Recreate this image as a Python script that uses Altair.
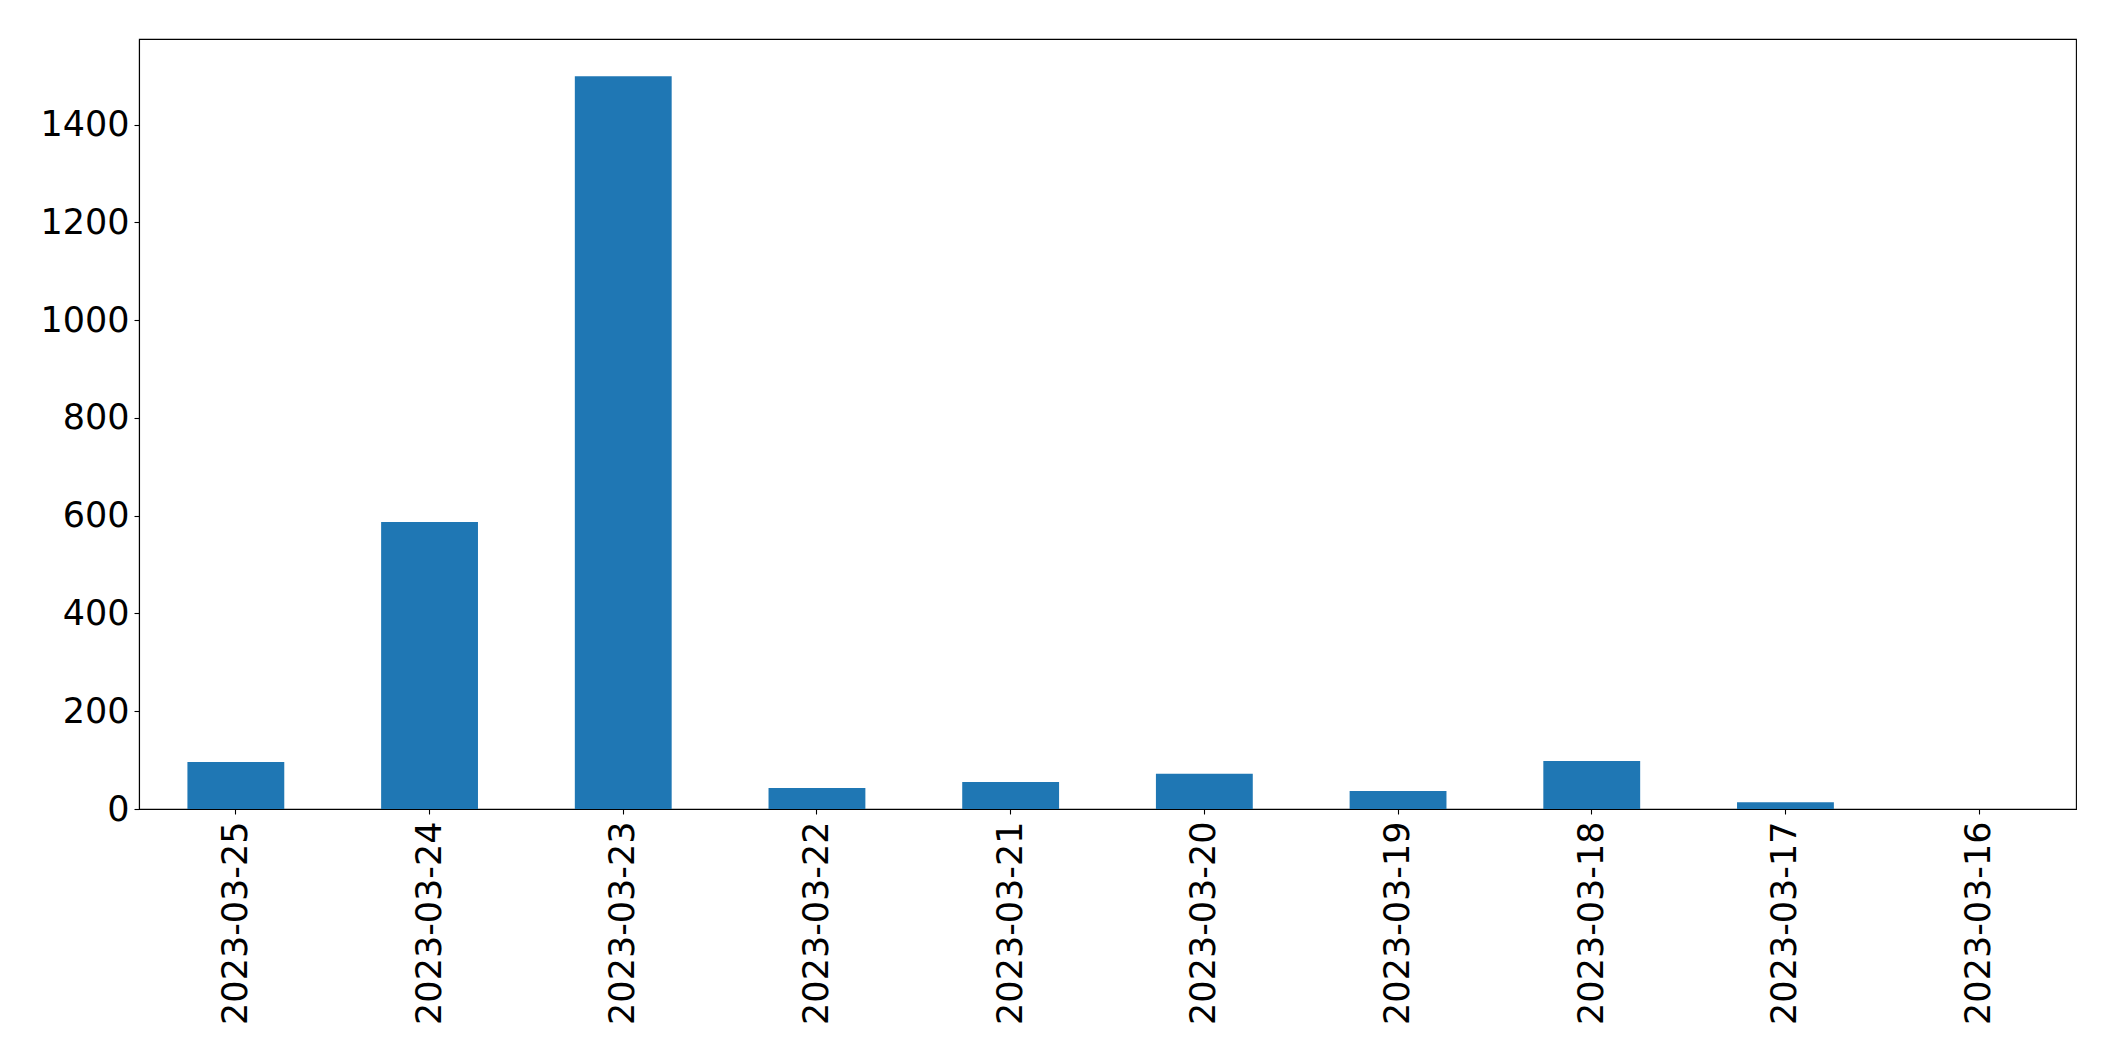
import altair as alt
import pandas as pd

dates = ["2023-03-25", "2023-03-24", "2023-03-23", "2023-03-22", "2023-03-21",
         "2023-03-20", "2023-03-19", "2023-03-18", "2023-03-17", "2023-03-16"]
counts = [96, 587, 1499, 43, 55, 72, 37, 98, 14, 0]
y_ticks = [0, 200, 400, 600, 800, 1000, 1200, 1400]

df = pd.DataFrame({"date": dates, "count": counts})

FONT = "DejaVu Sans"
FS = 35

chart = alt.Chart(df).mark_bar(color="#1f77b4").encode(
    x=alt.X("date:N", sort=None,
            scale=alt.Scale(paddingInner=0.5, paddingOuter=0.25),
            axis=alt.Axis(title=None, labelAngle=270, labelFont=FONT, labelFontSize=FS,
                          labelColor="black", tickColor="black", tickSize=5, tickWidth=1.1,
                          domainColor="black", domainWidth=1.1, labelPadding=7,
                          labelLimit=0, labelOverlap=False)),
    y=alt.Y("count:Q",
            scale=alt.Scale(domain=[0, 1575], nice=False),
            axis=alt.Axis(title=None, values=y_ticks, grid=False, labelFont=FONT,
                          labelFontSize=FS, labelColor="black", tickColor="black",
                          tickSize=5, tickWidth=1.1, domainColor="black", format="d",
                          domainWidth=1.1, labelPadding=5, labelLimit=0)),
).properties(
    width=1937, height=770,
    autosize=alt.AutoSizeParams(type="none"),
    padding={"left": 131, "top": 31, "right": 20, "bottom": 240},
).configure_view(stroke="black", strokeWidth=1.1)

chart.save("out.html", embed_options={"renderer": "svg", "actions": False})
